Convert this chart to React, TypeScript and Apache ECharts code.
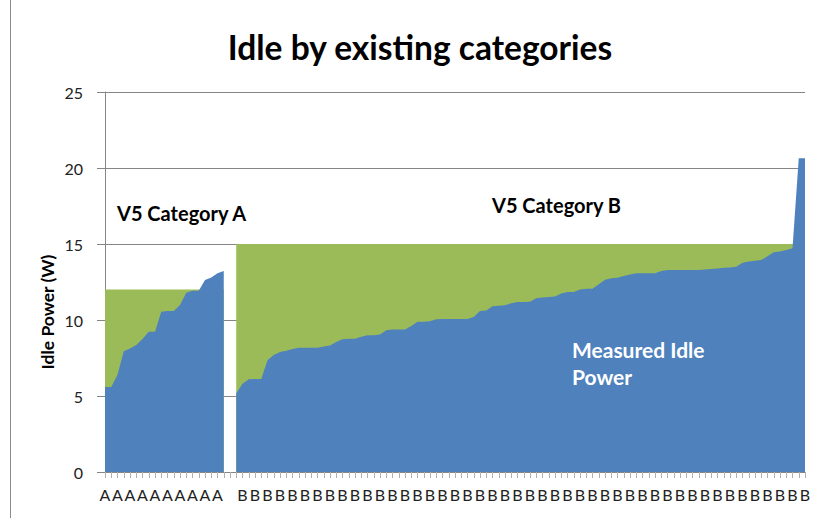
import React, { useEffect, useRef } from "react";
import * as echarts from "echarts";

const countA = 20;
const countB = 92;
const categories: string[] = [
  ...Array(countA).fill("A"),
  "",
  ...Array(countB).fill("B"),
];

const measuredA = [
  5.6, 5.6, 6.4, 7.95, 8.13, 8.36, 8.75, 9.23, 9.23, 10.55, 10.6, 10.6, 10.99,
  11.8, 11.93, 11.93, 12.63, 12.8, 13.07, 13.22,
];
const measuredB = [
  5.18, 5.8, 6.1, 6.12, 6.12, 7.35, 7.7, 7.9, 7.98, 8.1, 8.18, 8.18, 8.18, 8.18,
  8.25, 8.32, 8.55, 8.73, 8.77, 8.77, 8.9, 8.99, 8.99, 9.05, 9.32, 9.38, 9.38,
  9.38, 9.6, 9.89, 9.89, 9.92, 10.05, 10.07, 10.07, 10.07, 10.07, 10.07, 10.2,
  10.59, 10.62, 10.9, 10.94, 10.97, 11.1, 11.18, 11.18, 11.2, 11.43, 11.48,
  11.52, 11.55, 11.75, 11.84, 11.84, 12.0, 12.06, 12.06, 12.35, 12.65, 12.75,
  12.78, 12.9, 13.0, 13.07, 13.07, 13.07, 13.07, 13.22, 13.29, 13.29, 13.29,
  13.29, 13.29, 13.29, 13.32, 13.35, 13.38, 13.43, 13.46, 13.5, 13.77, 13.85,
  13.9, 13.94, 14.2, 14.45, 14.5, 14.6, 14.72, 20.64, 20.64,
];
const limitA = 12;
const limitB = 15;

const measured: (number | null)[] = [...measuredA, null, ...measuredB];
const limits: (number | null)[] = [
  ...Array(countA).fill(limitA),
  null,
  ...Array(countB).fill(limitB),
];

const yTicks = { min: 0, max: 25, interval: 5 };

const FONT = "Lato, 'Open Sans', sans-serif";

export default function App() {
  const ref = useRef<HTMLDivElement>(null);
  useEffect(() => {
    document.body.style.margin = "0";
    if (!ref.current) return;
    const chart = echarts.init(ref.current, undefined, { renderer: "svg" });
    chart.setOption({
      animation: false,
      backgroundColor: "#ffffff",
      textStyle: { fontFamily: FONT },
      grid: { left: 105, right: 15, top: 92, bottom: 46, containLabel: false },
      xAxis: {
        type: "category",
        data: categories,
        boundaryGap: false,
        axisLine: { show: true, lineStyle: { color: "#868686", width: 1 } },
        axisTick: {
          show: true,
          interval: 0,
          length: 6,
          lineStyle: { color: "#b0b0b0" },
        },
        axisLabel: {
          interval: 1,
          margin: 14,
          color: "#222",
          fontSize: 16,
          fontFamily: FONT,
        },
        splitLine: { show: false },
      },
      yAxis: {
        type: "value",
        min: yTicks.min,
        max: yTicks.max,
        interval: yTicks.interval,
        axisLine: { show: true, lineStyle: { color: "#868686", width: 1 } },
        axisTick: { show: true, length: 8, lineStyle: { color: "#868686" } },
        axisLabel: {
          margin: 22,
          color: "#222",
          fontSize: 16,
          fontFamily: FONT,
        },
        splitLine: { show: true, lineStyle: { color: "#868686", width: 1 } },
      },
      series: [
        {
          name: "Category limit",
          type: "line",
          data: limits,
          symbol: "none",
          connectNulls: false,
          lineStyle: { width: 0 },
          areaStyle: { color: "#9BBB59", opacity: 1 },
          itemStyle: { color: "#9BBB59" },
        },
        {
          name: "Measured Idle Power",
          type: "line",
          data: measured,
          symbol: "none",
          connectNulls: false,
          lineStyle: { width: 0 },
          areaStyle: { color: "#4F81BD", opacity: 1 },
          itemStyle: { color: "#4F81BD" },
        },
      ],
      graphic: [
        {
          type: "line",
          z: 100,
          shape: { x1: 10.5, y1: 0, x2: 10.5, y2: 518 },
          style: { stroke: "#8a8a8a", lineWidth: 1 },
        },
        {
          type: "text",
          z: 100,
          x: 420,
          y: 47,
          style: {
            text: "Idle by existing categories",
            font: `bold 33.5px ${FONT}`,
            fill: "#000",
            align: "center",
            verticalAlign: "middle",
          },
        },
        {
          type: "text",
          z: 100,
          x: 47,
          y: 312,
          rotation: Math.PI / 2,
          style: {
            text: "Idle Power (W)",
            font: `bold 17.5px ${FONT}`,
            fill: "#000",
            align: "center",
            verticalAlign: "middle",
          },
        },
        {
          type: "text",
          z: 100,
          x: 117,
          y: 213,
          style: {
            text: "V5 Category A",
            font: `bold 20px ${FONT}`,
            fill: "#000",
            align: "left",
            verticalAlign: "middle",
          },
        },
        {
          type: "text",
          z: 100,
          x: 492,
          y: 205,
          style: {
            text: "V5 Category B",
            font: `bold 20px ${FONT}`,
            fill: "#000",
            align: "left",
            verticalAlign: "middle",
          },
        },
        {
          type: "text",
          z: 100,
          x: 572,
          y: 349,
          style: {
            text: "Measured Idle",
            font: `bold 21px ${FONT}`,
            fill: "#ffffff",
            align: "left",
            verticalAlign: "middle",
          },
        },
        {
          type: "text",
          z: 100,
          x: 572,
          y: 376,
          style: {
            text: "Power",
            font: `bold 21px ${FONT}`,
            fill: "#ffffff",
            align: "left",
            verticalAlign: "middle",
          },
        },
      ],
    });
    return () => chart.dispose();
  }, []);
  return <div ref={ref} style={{ width: 820, height: 518 }} />;
}
